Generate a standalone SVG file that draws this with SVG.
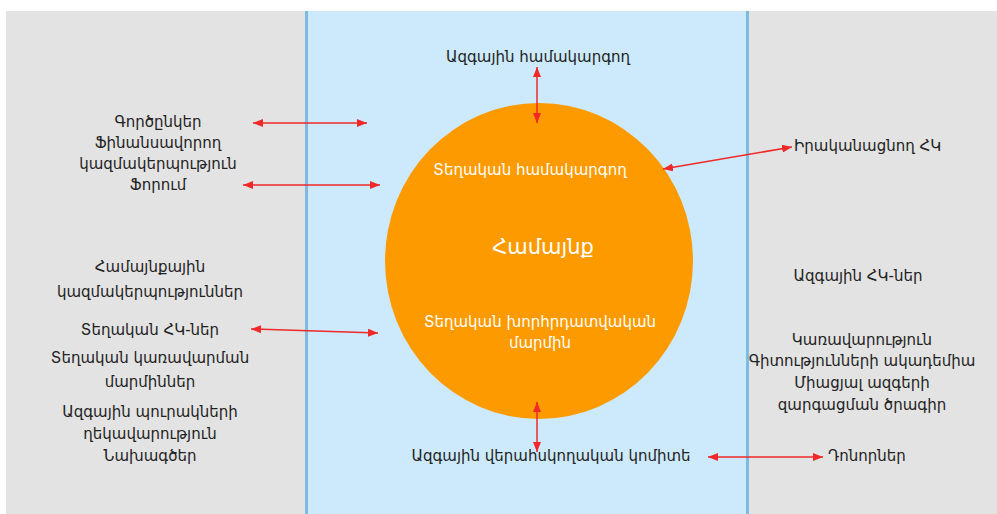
<svg xmlns="http://www.w3.org/2000/svg" width="997" height="514" viewBox="0 0 997 514">
<defs>
<marker id="ah" viewBox="0 0 10 8" refX="10" refY="4" markerWidth="10" markerHeight="8" markerUnits="userSpaceOnUse" orient="auto-start-reverse">
<path d="M0,0 L10,4 L0,8 Z" fill="#f02828"/>
</marker>
<style>
.t{font-family:"DejaVu Sans","Noto Sans",sans-serif;font-size:15px;fill:#222;text-anchor:middle}
.s{text-anchor:start}
.w{fill:#fff}
.c{stroke:#f02828;stroke-width:1.5;fill:none;marker-start:url(#ah);marker-end:url(#ah)}
</style>
</defs>
<rect x="0" y="0" width="997" height="514" fill="#fff"/>
<rect x="6" y="11" width="991" height="503" fill="#e3e3e3"/>
<rect x="306" y="11" width="442" height="503" fill="#cdeafc"/>
<rect x="305" y="11" width="3" height="503" fill="#7fbbe0"/>
<rect x="746" y="11" width="3" height="503" fill="#7fbbe0"/>
<g id="community">
<ellipse cx="539" cy="261" rx="154" ry="158" fill="#fd9a00"/>
<text class="t w" x="543" y="254" style="font-size:21px">Համայնք</text>
</g>
<g id="local-coordinator"><text class="t w" x="530" y="175">Տեղական համակարգող</text></g>
<g id="local-advisory"><text class="t w" x="540" y="327">Տեղական խորհրդատվական</text><text class="t w" x="540" y="348">մարմին</text></g>
<g id="national-coordinator"><text class="t" x="538" y="62">Ազգային համակարգող</text></g>
<g id="national-committee"><text class="t" x="551" y="461">Ազգային վերահսկողական կոմիտե</text></g>
<g id="donors"><text class="t s" x="828" y="461">Դոնորներ</text></g>
<g id="implementing-ngo"><text class="t s" x="794" y="151">Իրականացնող ՀԿ</text></g>
<g id="national-ngos"><text class="t" x="858" y="281">Ազգային ՀԿ-ներ</text></g>
<g id="government"><text class="t" x="862" y="345">Կառավարություն</text><text class="t" x="862" y="366">Գիտությունների ակադեմիա</text><text class="t" x="862" y="388">Միացյալ ազգերի</text><text class="t" x="862" y="410">զարգացման ծրագիր</text></g>
<g id="partners"><text class="t" x="158" y="127">Գործընկեր</text><text class="t" x="158" y="148">Ֆինանսավորող</text><text class="t" x="158" y="169">կազմակերպություն</text><text class="t" x="158" y="190">Ֆորում</text></g>
<g id="community-orgs"><text class="t" x="150" y="272">Համայնքային</text><text class="t" x="150" y="297">կազմակերպություններ</text></g>
<g id="local-ngos"><text class="t" x="150" y="335">Տեղական ՀԿ-ներ</text></g>
<g id="local-gov"><text class="t" x="150" y="363">Տեղական կառավարման</text><text class="t" x="150" y="387">մարմիններ</text></g>
<g id="parks"><text class="t" x="150" y="417">Ազգային պուրակների</text><text class="t" x="150" y="439">ղեկավարություն</text><text class="t" x="150" y="461">Նախագծեր</text></g>
<g id="connectors">
<line class="c" x1="253" y1="123" x2="367" y2="123"/>
<line class="c" x1="243" y1="185" x2="380" y2="185"/>
<line class="c" x1="251" y1="329" x2="378" y2="333"/>
<line class="c" x1="537" y1="67" x2="537" y2="123"/>
<line class="c" x1="537" y1="402" x2="537" y2="452"/>
<line class="c" x1="708" y1="457" x2="823" y2="457"/>
<line class="c" x1="663" y1="169" x2="792" y2="147"/>
</g>
</svg>
